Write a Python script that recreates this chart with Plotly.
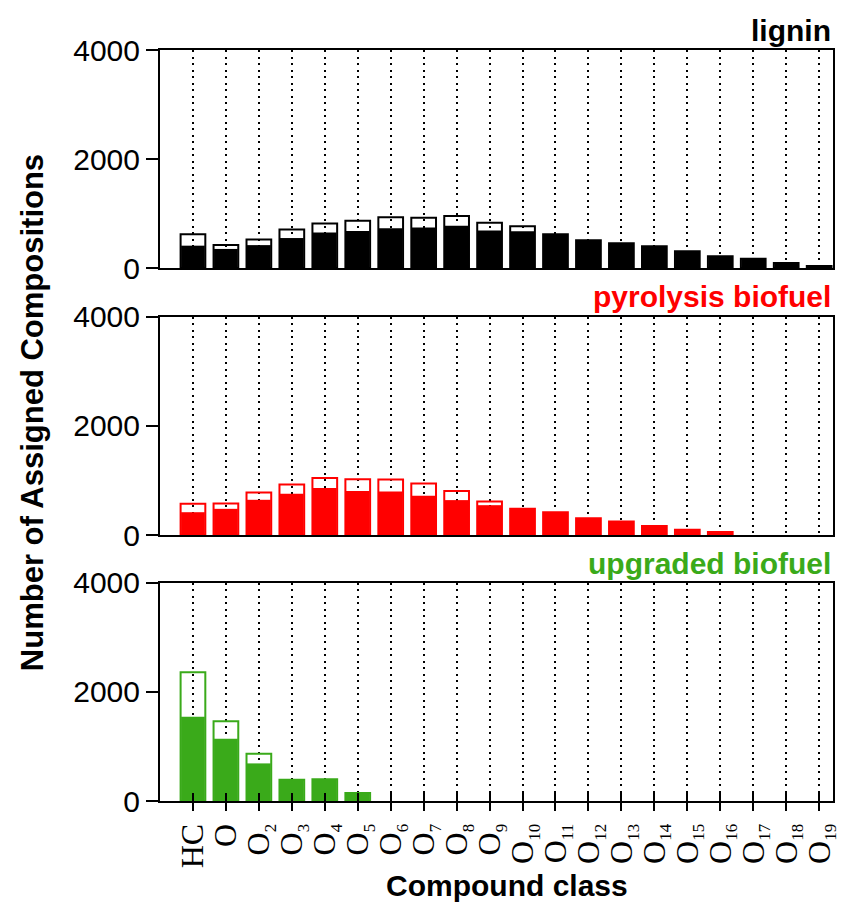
import plotly.graph_objects as go

# Compound classes (HC, O1 ... O19)
classes = ["HC", "O"] + ["O%d" % n for n in range(2, 20)]
tick_labels = ["HC", "O"] + [
    'O<sub><span style="font-size:17px">%d</span></sub>' % n for n in range(2, 20)
]

# Number of assigned compositions per class: total (open bar) and subset (filled bar)
lignin_total = [620, 420, 525, 705, 815, 865, 930, 920, 955, 830, 765, 618, 508, 453, 398, 306, 214, 171, 92, 37]
lignin_fill = [410, 350, 420, 550, 650, 680, 730, 745, 775, 690, 675, 618, 508, 453, 398, 306, 214, 171, 92, 37]

pyro_total = [572, 578, 780, 925, 1045, 1025, 1020, 945, 805, 615, 480, 418, 307, 246, 166, 98, 55, 0, 0, 0]
pyro_fill = [418, 480, 646, 756, 860, 806, 800, 720, 640, 547, 480, 418, 307, 246, 166, 98, 55, 0, 0, 0]

upg_total = [2360, 1465, 866, 390, 397, 146, 0, 0, 0, 0, 0, 0, 0, 0, 0, 0, 0, 0, 0, 0]
upg_fill = [1545, 1140, 690, 390, 397, 146, 0, 0, 0, 0, 0, 0, 0, 0, 0, 0, 0, 0, 0, 0]

panels = [
    ("lignin", "#000000", lignin_total, lignin_fill),
    ("pyrolysis biofuel", "#FF0000", pyro_total, pyro_fill),
    ("upgraded biofuel", "#3AAA1A", upg_total, upg_fill),
]

xpos = list(range(len(classes)))
XRANGE = [-1.0, 19.42]
SANS = "Liberation Sans, Arial, sans-serif"
SERIF = "Liberation Serif, Times New Roman, serif"

# panel domains (top -> bottom) in plot-area fractions
domains = [[0.7097, 1.0], [0.3542, 0.6445], [0.0, 0.2903]]
title_y = [1.0266, 0.6724, 0.3169]

fig = go.Figure()

for i, (name, color, total, fill) in enumerate(panels):
    xa = "x" if i == 0 else "x%d" % (i + 1)
    ya = "y" if i == 0 else "y%d" % (i + 1)
    fig.add_trace(go.Bar(
        x=xpos, y=[v if v > 0 else None for v in total],
        width=0.75, xaxis=xa, yaxis=ya,
        marker=dict(color="rgba(0,0,0,0)", line=dict(color=color, width=2)),
        name=name + " total", showlegend=False, hoverinfo="y",
    ))
    fig.add_trace(go.Bar(
        x=xpos, y=[v if v > 0 else None for v in fill],
        width=0.72, xaxis=xa, yaxis=ya,
        marker=dict(color=color, line=dict(width=0)),
        name=name, showlegend=False, hoverinfo="y",
    ))

# placeholder trace so the overlay axis carrying the inner ticks is drawn
fig.add_trace(go.Scatter(x=[None], y=[None], xaxis="x4", yaxis="y3",
                         showlegend=False, hoverinfo="skip"))

xcommon = dict(
    range=XRANGE, tickmode="array", tickvals=xpos,
    showline=True, linecolor="black", linewidth=2, mirror=True,
    showgrid=True, gridcolor="black", gridwidth=1.8, griddash="2px,4.5px",
    zeroline=False, fixedrange=True,
)
ycommon = dict(
    range=[0, 4000], tickmode="array", tickvals=[0, 2000, 4000],
    ticktext=["0", "2000", "4000"],
    showline=True, linecolor="black", linewidth=2, mirror=True,
    ticks="outside", ticklen=12, tickwidth=2, tickcolor="black",
    showgrid=False, zeroline=False,
    tickfont=dict(family=SANS, size=30, color="black"),
)

layout = dict(
    width=845, height=904,
    margin=dict(l=160, r=5, t=50, b=103),
    paper_bgcolor="white", plot_bgcolor="white",
    barmode="overlay", bargap=0.25,
    font=dict(family=SANS, color="black"),
)

for i in range(3):
    xk = "xaxis" if i == 0 else "xaxis%d" % (i + 1)
    yk = "yaxis" if i == 0 else "yaxis%d" % (i + 1)
    ya = "y" if i == 0 else "y%d" % (i + 1)
    xa = "x" if i == 0 else "x%d" % (i + 1)
    xd = dict(xcommon, anchor=ya, domain=[0, 1])
    if i < 2:
        xd.update(showticklabels=False, ticks="")
    else:
        xd.update(ticktext=tick_labels, ticks="outside", ticklen=8, tickwidth=2,
                  tickcolor="black", tickangle=-90, ticklabeloverflow="allow",
                  tickfont=dict(family=SERIF, size=32, color="black"))
    layout[xk] = xd
    layout[yk] = dict(ycommon, anchor=xa, domain=domains[i])

# inner tick marks on the bottom axis
layout["xaxis4"] = dict(
    overlaying="x3", anchor="y3", range=XRANGE, tickmode="array", tickvals=xpos,
    ticks="inside", ticklen=8, tickwidth=2, tickcolor="black",
    showticklabels=False, showgrid=False, showline=False, zeroline=False,
)

annotations = []
for i, (name, color, _, _) in enumerate(panels):
    annotations.append(dict(
        text=name, xref="paper", yref="paper", x=1.0, y=title_y[i],
        xanchor="right", yanchor="middle", showarrow=False,
        font=dict(family=SANS, size=30, color=color, weight="bold"),
    ))
annotations.append(dict(
    text="Number of Assigned Compositions", xref="paper", yref="paper",
    x=-0.19, y=0.5166, xanchor="center", yanchor="middle", textangle=-90,
    showarrow=False, font=dict(family=SANS, size=31, color="black", weight="bold"),
))
annotations.append(dict(
    text="Compound class", xref="paper", yref="paper",
    x=0.516, y=-0.112, xanchor="center", yanchor="middle",
    showarrow=False, font=dict(family=SANS, size=30, color="black", weight="bold"),
))
layout["annotations"] = annotations

fig.update_layout(**layout)
fig.write_html("out.html")
